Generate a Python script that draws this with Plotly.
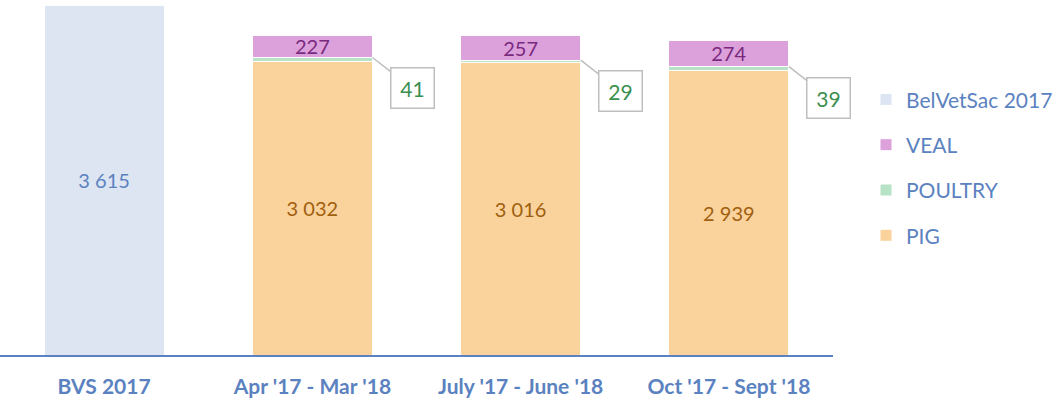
import plotly.graph_objects as go

categories = ["BVS 2017", "Apr '17 - Mar '18", "July '17 - June '18", "Oct '17 - Sept '18"]
bvs_values = [3615, None, None, None]
pig_values = [None, 3032, 3016, 2939]
poultry_values = [None, 41, 29, 39]
veal_values = [None, 227, 257, 274]

FONT = "Lato, Carlito, 'Open Sans', sans-serif"
BLUE_TXT = "#5b82c0"
BAR_W = 0.577


def fmt(v):
    return "" if v is None else f"{v:,}".replace(",", " ")


fig = go.Figure()
fig.add_trace(go.Bar(
    x=categories, y=bvs_values, name="BelVetSac 2017", marker=dict(color="#dce5f1", line=dict(color="white", width=1)),
    text=[fmt(v) for v in bvs_values], textposition="inside", insidetextanchor="middle", constraintext="none",
    textfont=dict(color=BLUE_TXT, size=20, family=FONT), legendgroup="bvs", width=BAR_W, legendrank=1,
))
fig.add_trace(go.Bar(
    x=categories, y=pig_values, name="PIG", marker=dict(color="#fad29c", line=dict(color="white", width=1)),
    text=[fmt(v) for v in pig_values], textposition="inside", insidetextanchor="middle", constraintext="none",
    textfont=dict(color="#a0600f", size=20, family=FONT), legendgroup="pig", width=BAR_W, legendrank=4,
))
fig.add_trace(go.Bar(
    x=categories, y=poultry_values, name="POULTRY", marker=dict(color="#b8e2c6", line=dict(color="white", width=1)),
    legendgroup="poultry", width=BAR_W, legendrank=3,
))
fig.add_trace(go.Bar(
    x=categories, y=veal_values, name="VEAL", marker=dict(color="#dca0db", line=dict(color="white", width=1)),
    text=[fmt(v) for v in veal_values], textposition="inside", insidetextanchor="middle", constraintext="none",
    textfont=dict(color="#7a2a7e", size=20, family=FONT), legendgroup="veal", width=BAR_W, legendrank=2,
))

for i, (p, q) in enumerate(zip(pig_values, poultry_values)):
    if q is None:
        continue
    fig.add_annotation(
        x=i + BAR_W / 2, y=p + q, xref="x", yref="y",
        text=str(q), showarrow=True, arrowhead=0, arrowwidth=1.5, arrowcolor="#bfbfbf",
        ax=40, ay=31, bordercolor="#bfbfbf", borderwidth=1.5, borderpad=7, bgcolor="white",
        font=dict(color="#3b8f4f", size=21, family=FONT), width=28,
    )

fig.update_layout(
    width=1058, height=401,
    margin=dict(l=0, r=224, t=5, b=46),
    barmode="stack", bargap=0.423,
    plot_bgcolor="white", paper_bgcolor="white",
    showlegend=True,
    legend=dict(
        x=1.04, xanchor="left", y=0.535, yanchor="middle",
        traceorder="grouped", tracegroupgap=15,
        font=dict(color=BLUE_TXT, size=21, family=FONT),
        itemwidth=30,
    ),
    xaxis=dict(
        type="category", showline=True, linecolor="#5b82c0", linewidth=2,
        tickfont=dict(color=BLUE_TXT, size=21, family=FONT, weight="bold"),
        ticks="outside", ticklen=12, tickcolor="rgba(0,0,0,0)", showgrid=False,
        range=[-0.5, 3.5],
    ),
    yaxis=dict(visible=False, range=[0, 3615], showgrid=False),
)

fig.write_html("out.html")
